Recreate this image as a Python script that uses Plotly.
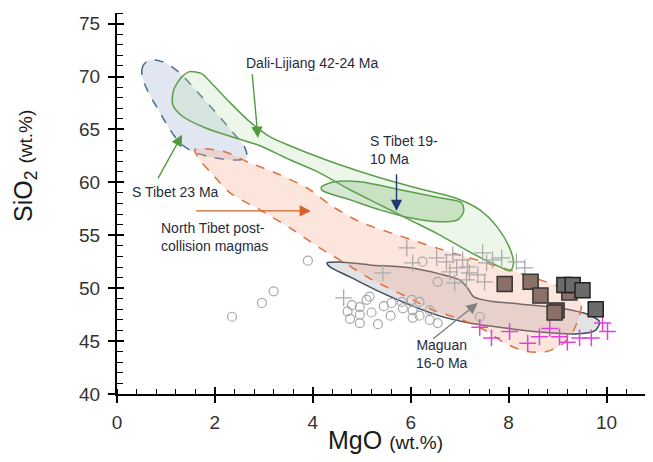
import plotly.graph_objects as go

# ---------------- data (MgO wt.%, SiO2 wt.%) ----------------
stibet23_mgo = [0.67, 0.53, 0.51, 0.63, 0.84, 1.08, 1.29, 1.55, 1.90, 2.41, 2.65, 2.61, 2.35, 2.00, 1.63, 1.29, 0.98, 0.67]
stibet23_sio2 = [71.6, 71.0, 70.1, 68.6, 66.9, 65.0, 63.7, 62.9, 62.4, 62.1, 62.3, 63.3, 64.8, 66.7, 68.6, 70.3, 71.3, 71.6]

dali_mgo = [1.49, 1.73, 1.94, 2.31, 2.71, 3.12, 3.73, 4.55, 5.37, 6.18, 6.90, 7.41, 7.78, 8.02, 8.10, 8.04,
            7.82, 7.20, 6.59, 5.98, 5.37, 4.76, 4.14, 3.53, 2.92, 2.41, 1.80, 1.35, 1.14, 1.16, 1.33, 1.49]
dali_sio2 = [70.46, 70.27, 69.32, 67.53, 65.73, 64.31, 63.08, 61.66, 60.43, 59.39, 58.54, 57.40, 55.70, 53.81, 52.39, 51.63,
             52.01, 53.43, 55.04, 56.46, 57.88, 59.30, 60.90, 62.13, 63.46, 64.21, 65.16, 66.20, 67.34, 68.76, 69.99, 70.46]

stibet1910_mgo = [4.18, 4.45, 4.96, 5.78, 6.59, 7.04, 7.08, 6.96, 6.59, 5.98, 5.37, 4.76, 4.35, 4.18, 4.18]
stibet1910_sio2 = [59.58, 60.05, 60.05, 59.30, 58.54, 58.07, 57.21, 56.46, 56.27, 56.65, 57.40, 58.35, 58.92, 59.30, 59.58]

ntibet_mgo = [1.59, 1.80, 2.20, 2.71, 3.33, 3.94, 4.35, 4.96, 5.78, 6.59, 7.41, 8.22, 9.04, 9.41, 9.49, 9.43, 9.31, 9.08,
              8.73, 8.33, 7.92, 7.51, 7.00, 6.45, 5.88, 5.22, 4.65, 4.14, 3.53, 2.92, 2.31, 1.96, 1.69, 1.59]
ntibet_sio2 = [63.08, 63.17, 62.89, 61.85, 60.71, 59.30, 57.88, 56.27, 54.94, 53.71, 52.58, 51.44, 50.12, 49.27, 48.42, 47.19, 45.86, 44.63,
               43.97, 44.06, 44.82, 46.05, 47.09, 47.94, 49.27, 50.78, 52.39, 53.81, 55.70, 57.40, 59.01, 60.71, 62.13, 63.08]

maguan_mgo = [4.29, 4.55, 5.16, 5.98, 6.59, 7.00, 7.16, 7.29, 7.61, 8.22, 9.04, 9.65, 9.86, 9.76, 9.35, 8.63, 7.92, 7.20,
              6.59, 5.98, 5.37, 4.76, 4.35, 4.29]
maguan_sio2 = [52.39, 52.48, 52.20, 51.92, 51.35, 50.78, 50.02, 49.17, 48.79, 48.51, 48.13, 47.47, 46.81, 45.96, 45.67, 45.86, 46.24, 46.71,
               47.38, 48.42, 49.65, 51.06, 52.01, 52.39]

circ_mgo = [2.35, 2.96, 3.20, 3.90, 4.71, 4.76, 4.80, 4.96, 4.96, 4.96, 5.16, 5.20, 5.33, 5.59, 5.61, 5.82, 5.84, 6.02,
            6.04, 6.04, 6.18, 6.18, 6.39, 6.39, 6.55, 6.24, 6.55, 7.41, 5.10, 5.45]
circ_sio2 = [47.3, 48.6, 49.7, 52.6, 47.8, 47.1, 48.4, 48.2, 47.5, 46.7, 49.2, 47.7, 46.6, 47.4, 48.6, 48.7, 48.1, 48.9,
             47.9, 47.2, 48.7, 47.4, 47.9, 47.0, 46.7, 52.5, 50.6, 47.3, 48.9, 48.3]

gcross_mgo = [4.63, 5.43, 5.92, 6.04, 6.53, 6.73, 6.86, 6.94, 6.80, 6.90, 7.16, 7.37, 7.51, 7.47, 7.67, 7.86, 8.16, 8.33,
              7.20, 7.55, 7.06, 7.14]
gcross_sio2 = [49.08, 51.44, 53.81, 52.39, 52.86, 52.48, 53.15, 51.92, 51.54, 50.50, 52.01, 51.25, 50.59, 53.33, 52.67, 52.86, 52.48, 51.92,
               51.44, 52.39, 52.67, 50.78]

mag_mgo = [7.41, 7.65, 8.02, 8.39, 8.63, 8.84, 9.04, 9.20, 9.45, 9.69, 9.92, 10.02]
mag_sio2 = [46.3, 45.3, 45.9, 44.8, 45.4, 46.2, 45.4, 44.9, 45.3, 45.3, 46.7, 45.9]

brown_mgo = [7.92, 8.45, 8.65, 8.98, 8.94, 9.24]
brown_sio2 = [50.4, 50.6, 49.3, 47.9, 47.7, 49.6]

dark_mgo = [9.14, 9.31, 9.51, 9.78]
dark_sio2 = [50.3, 50.3, 49.8, 48.0]

x_ticks = [0, 2, 4, 6, 8, 10]
y_ticks = [40, 45, 50, 55, 60, 65, 70, 75]

# ---------------- figure ----------------
fig = go.Figure()

def region(xs, ys, fill, line, dash="solid"):
    fig.add_trace(go.Scatter(x=xs, y=ys, mode="lines", fill="toself", fillcolor=fill,
                             line=dict(color=line, width=1.5, dash=dash, shape="spline", smoothing=0.8),
                             hoverinfo="skip", showlegend=False))

region(stibet23_mgo, stibet23_sio2, "rgba(190,200,222,0.45)", "#4d6b8a", "dash")
region(maguan_mgo, maguan_sio2, "rgba(200,200,205,0.5)", "#3f4e5b")
region(ntibet_mgo, ntibet_sio2, "rgba(245,170,140,0.3)", "#e0703c", "dash")
region(dali_mgo, dali_sio2, "rgba(180,225,170,0.25)", "#5b9e4a")
region(stibet1910_mgo, stibet1910_sio2, "rgba(120,180,110,0.3)", "#5b9e4a")

fig.add_trace(go.Scatter(x=circ_mgo, y=circ_sio2, mode="markers",
                         marker=dict(symbol="circle-open", size=9, color="#a8a8a8", line=dict(width=1.2)),
                         showlegend=False))
fig.add_trace(go.Scatter(x=gcross_mgo, y=gcross_sio2, mode="markers",
                         marker=dict(symbol="cross-thin-open", size=12, color="#aaaaaa", line=dict(width=1.3, color="#aaaaaa")),
                         showlegend=False))
fig.add_trace(go.Scatter(x=mag_mgo, y=mag_sio2, mode="markers",
                         marker=dict(symbol="cross-thin-open", size=12, color="#e040e0", line=dict(width=1.5, color="#e040e0")),
                         showlegend=False))
fig.add_trace(go.Scatter(x=brown_mgo, y=brown_sio2, mode="markers",
                         marker=dict(symbol="square", size=15, color="#8a7068", line=dict(width=1.5, color="#333333")),
                         showlegend=False))
fig.add_trace(go.Scatter(x=dark_mgo, y=dark_sio2, mode="markers",
                         marker=dict(symbol="square", size=15, color="#6b6b6b", line=dict(width=1.5, color="#222222")),
                         showlegend=False))

txt = dict(family="Liberation Sans, Arial", size=14, color="#1f2d3d")

def label(x, y, text, align="center", xanchor="center"):
    fig.add_annotation(x=x, y=y, xref="x", yref="y", text=text, showarrow=False, font=txt,
                       align=align, xanchor=xanchor, yanchor="middle")

def arrow(x0, y0, x1, y1, color):
    fig.add_annotation(x=x1, y=y1, ax=x0, ay=y0, xref="x", yref="y", axref="x", ayref="y",
                       text="", showarrow=True, arrowhead=2, arrowsize=1.6, arrowwidth=1.4,
                       arrowcolor=color, standoff=0)

label(4.0, 71.3, "Dali-Lijiang 42-24 Ma")
label(1.20, 59.1, "S Tibet 23 Ma")
label(5.12, 63.1, "S Tibet 19-<br>10 Ma", align="left", xanchor="left")
label(0.86, 54.85, "North Tibet post-<br>collision magmas", align="left", xanchor="left")
label(6.63, 43.8, "Maguan<br>16-0 Ma")

arrow(2.76, 70.36, 2.88, 64.2, "#4f9a3c")
arrow(0.82, 60.24, 1.33, 64.5, "#4f9a3c")
arrow(5.71, 60.9, 5.71, 57.3, "#1f3a6e")
arrow(1.59, 57.3, 3.96, 57.3, "#d4622a")
arrow(6.43, 45.1, 7.37, 48.6, "#808080")

# axis titles
fig.add_annotation(xref="paper", yref="paper", x=0.5, y=-0.121, xanchor="center", yanchor="middle",
                   text="MgO <span style='font-size:19px'>(wt.%)</span>", showarrow=False,
                   font=dict(family="Liberation Sans, Arial", size=25, color="#1a1a1a"))
fig.add_annotation(xref="paper", yref="paper", x=-0.172, y=0.598, xanchor="center", yanchor="middle",
                   text="SiO<sub>2</sub> <span style='font-size:19px'>(wt.%)</span>", showarrow=False, textangle=-90,
                   font=dict(family="Liberation Sans, Arial", size=25, color="#1a1a1a"))

tickfont = dict(family="Liberation Sans, Arial", size=19, color="#333333")

# page body adds an 8px offset; the figure is shifted to compensate
fig.update_layout(
    width=645, height=454,
    margin=dict(l=109, r=0, t=5, b=68),
    plot_bgcolor="white", paper_bgcolor="white",
    showlegend=False,
    xaxis=dict(range=[0, 10.95], tickvals=x_ticks, ticks="outside", ticklen=7, tickwidth=1.5, tickcolor="black",
               showline=True, linecolor="black", linewidth=2, showgrid=False, zeroline=False,
               tickfont=tickfont, ticklabelstandoff=3,
               minor=dict(dtick=0.4, tick0=0, ticks="inside", ticklen=5, tickwidth=1, tickcolor="black", showgrid=False)),
    yaxis=dict(range=[40, 76], tickvals=y_ticks, ticks="outside", ticklen=7, tickwidth=1.5, tickcolor="black",
               showline=True, linecolor="black", linewidth=2, showgrid=False, zeroline=False,
               tickfont=tickfont, ticklabelstandoff=4,
               minor=dict(dtick=1, tick0=40, ticks="inside", ticklen=6, tickwidth=1, tickcolor="black", showgrid=False)),
    xaxis2=dict(range=[0, 10.95], overlaying="x", anchor="y", side="bottom", tickvals=x_ticks, ticks="inside",
                ticklen=7, tickwidth=1.5, tickcolor="black", showticklabels=False, showgrid=False, zeroline=False,
                showline=False),
    yaxis2=dict(range=[40, 76], overlaying="y", anchor="x", side="left", tickvals=y_ticks, ticks="inside",
                ticklen=7, tickwidth=1.5, tickcolor="black", showticklabels=False, showgrid=False, zeroline=False,
                showline=False),
)
fig.add_trace(go.Scatter(x=[None], y=[None], xaxis="x2", yaxis="y2", showlegend=False, hoverinfo="skip"))

fig.write_html("out.html")
